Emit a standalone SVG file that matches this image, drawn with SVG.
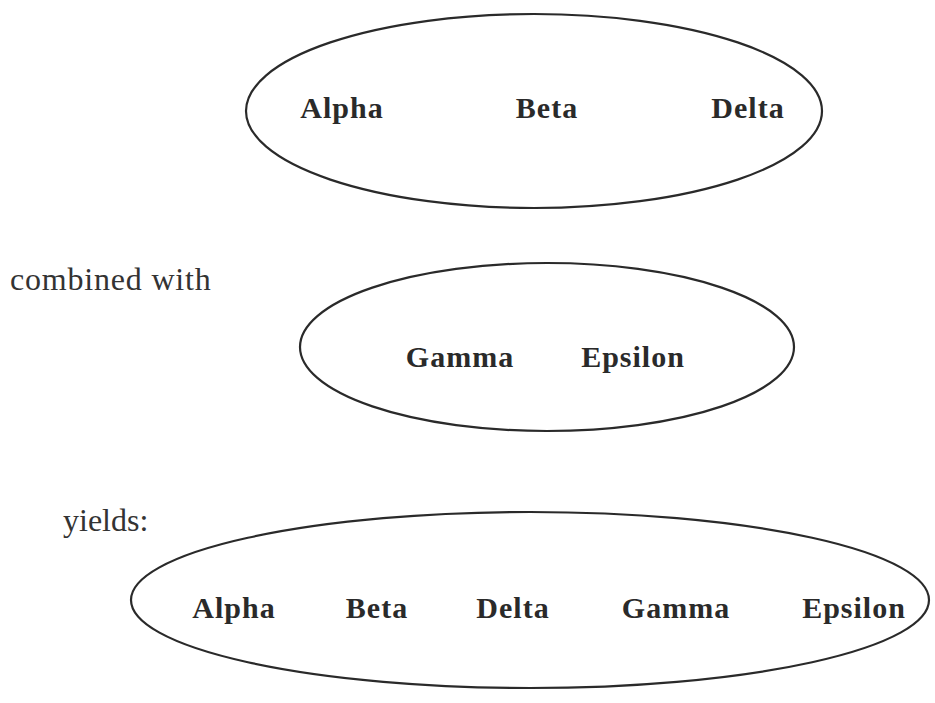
<svg xmlns="http://www.w3.org/2000/svg" width="935" height="703" viewBox="0 0 935 703">
  <style>
    .set { fill: none; stroke: #2a2a2a; stroke-width: 2.2; }
    .item { font-family: "Liberation Serif", "DejaVu Serif", serif; font-weight: bold; font-size: 30px; fill: #2a2a2a; text-anchor: middle; letter-spacing: 1px; }
    .caption { font-family: "Liberation Serif", "DejaVu Serif", serif; font-size: 32px; fill: #333; letter-spacing: 0.8px; }
  </style>
  <rect width="935" height="703" fill="#ffffff"/>

  <!-- first set -->
  <g id="set-first">
    <ellipse class="set" cx="534" cy="111" rx="288" ry="97"/>
    <text class="item" x="342" y="118">Alpha</text>
    <text class="item" x="547" y="118">Beta</text>
    <text class="item" x="748" y="118">Delta</text>
  </g>

  <g id="label-combined">
    <text class="caption" x="10" y="290">combined with</text>
  </g>

  <!-- second set -->
  <g id="set-second">
    <ellipse class="set" cx="547" cy="347" rx="247" ry="84"/>
    <text class="item" x="460" y="367">Gamma</text>
    <text class="item" x="633" y="367">Epsilon</text>
  </g>

  <g id="label-yields">
    <text class="caption" x="63" y="531" style="letter-spacing:0">yields:</text>
  </g>

  <!-- union of both sets -->
  <g id="set-union">
    <ellipse class="set" cx="530" cy="600" rx="399" ry="88"/>
    <text class="item" x="234" y="618">Alpha</text>
    <text class="item" x="377" y="618">Beta</text>
    <text class="item" x="513" y="618">Delta</text>
    <text class="item" x="676" y="618">Gamma</text>
    <text class="item" x="854" y="618">Epsilon</text>
  </g>

  <g id="connectors"></g>
</svg>
